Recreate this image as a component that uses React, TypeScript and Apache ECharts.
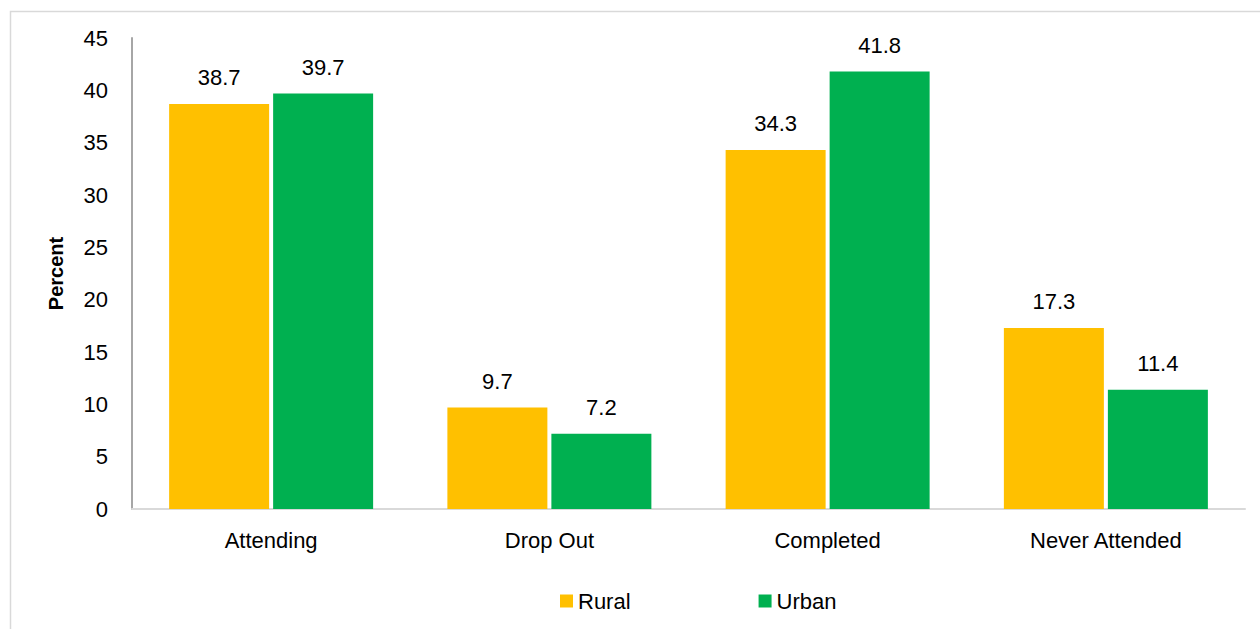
import React, { useEffect, useRef } from "react";
import * as echarts from "echarts";

const categories = ["Attending", "Drop Out", "Completed", "Never Attended"];
const rural = [38.7, 9.7, 34.3, 17.3];
const urban = [39.7, 7.2, 41.8, 11.4];
const seriesNames = ["Rural", "Urban"];
const yTicks = { min: 0, max: 45, interval: 5 };

const FONT = "'Liberation Sans Narrow', 'Arial Narrow', 'Liberation Sans', Arial, sans-serif";

export default function App() {
  const ref = useRef<HTMLDivElement>(null);
  useEffect(() => {
    if (!ref.current) return;
    const chart = echarts.init(ref.current, null, { renderer: "svg" });
    const label = {
      show: true,
      position: "top" as const,
      distance: 15,
      fontSize: 22,
      fontFamily: FONT,
      color: "#000",
      formatter: (p: any) => p.value.toFixed(1),
    };
    chart.setOption({
      animation: false,
      backgroundColor: "#fff",
      graphic: [
        {
          type: "rect",
          shape: { x: 10.5, y: 11.5, width: 1260, height: 630 },
          style: { fill: "none", stroke: "#d9d9d9", lineWidth: 1.5 },
          silent: true,
        },
      ],
      grid: { left: 132, right: 15, top: 38, bottom: 120 },
      legend: {
        data: seriesNames,
        top: 585,
        left: 555,
        itemWidth: 13,
        itemHeight: 13,
        itemGap: 128,
        icon: "rect",
        textStyle: { fontSize: 22, fontFamily: FONT, color: "#000" },
      },
      xAxis: {
        type: "category",
        data: categories,
        axisLine: { show: true, lineStyle: { color: "#d9d9d9", width: 2 } },
        axisTick: { show: false },
        axisLabel: { fontSize: 22, fontFamily: FONT, color: "#000", margin: 20 },
      },
      yAxis: {
        type: "value",
        min: yTicks.min,
        max: yTicks.max,
        interval: yTicks.interval,
        name: "Percent",
        nameLocation: "middle",
        nameGap: 66,
        nameRotate: 90,
        nameTextStyle: { fontSize: 20, fontWeight: "bold", fontFamily: FONT, color: "#000" },
        axisLine: { show: true, lineStyle: { color: "#a6a6a6", width: 2 } },
        axisTick: { show: false },
        splitLine: { show: false },
        axisLabel: { fontSize: 22, fontFamily: FONT, color: "#000", margin: 24 },
      },
      series: [
        {
          name: seriesNames[0],
          type: "bar",
          data: rural,
          barWidth: 100,
          barGap: "4%",
          itemStyle: { color: "#FFC000" },
          label,
        },
        {
          name: seriesNames[1],
          type: "bar",
          data: urban,
          barWidth: 100,
          barGap: "4%",
          itemStyle: { color: "#00B050" },
          label,
        },
      ],
    });
    return () => chart.dispose();
  }, []);
  return (
    <div
      ref={ref}
      style={{ position: "fixed", left: 0, top: 0, width: 1260, height: 629 }}
    />
  );
}
